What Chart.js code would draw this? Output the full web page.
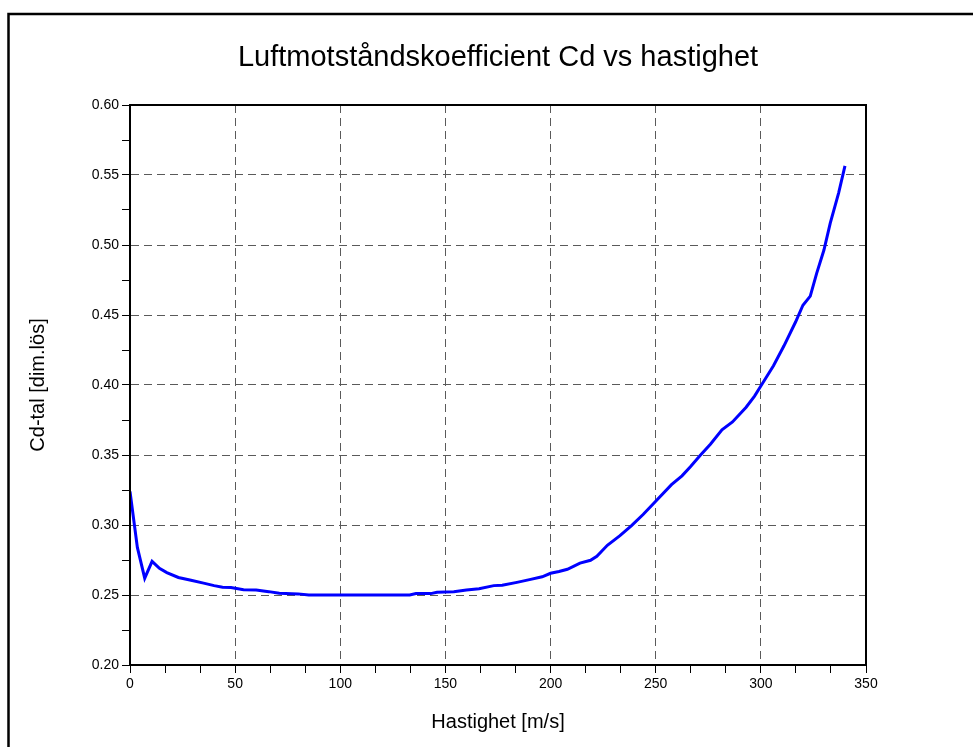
<!DOCTYPE html>
<html>
<head>
<meta charset="utf-8">
<script src="https://cdn.jsdelivr.net/npm/chart.js@4"></script>
<style>
  html, body { margin: 0; padding: 0; background: #fff; }
  #wrap { width: 973px; height: 747px; }
</style>
</head>
<body>
<div id="wrap"><canvas id="chart" width="973" height="747"></canvas></div>
<script>
// speed [m/s] and drag coefficient
const speeds = [0, 3.5, 7, 10.5, 14, 17.5, 23, 29, 35, 40, 44, 48, 54, 60, 66, 71, 80, 85,
  133, 136, 143, 146, 154, 160, 166, 173, 177, 184, 190, 196, 200, 204, 208, 214, 219, 222,
  227, 233, 238.5, 244, 250, 257.5, 262.5, 266.5, 271, 276, 281.5, 286.5, 293, 297, 300,
  306, 311, 316.5, 320, 323.5, 326.5, 330, 333, 337, 340];
const cdValues = [0.324, 0.284, 0.262, 0.274, 0.269, 0.266, 0.2625, 0.2605, 0.2585, 0.2567,
  0.2555, 0.2553, 0.2538, 0.2536, 0.2524, 0.2512, 0.2508, 0.250, 0.250, 0.251, 0.251, 0.252,
  0.2524, 0.2536, 0.2545, 0.2567, 0.2569, 0.259, 0.261, 0.263, 0.2655, 0.2668, 0.2684, 0.2728,
  0.2748, 0.2777, 0.2855, 0.2924, 0.2995, 0.3075, 0.317, 0.3288, 0.3351, 0.3416, 0.3495,
  0.3577, 0.368, 0.3736, 0.3841, 0.3921, 0.3993, 0.4137, 0.428, 0.445, 0.457, 0.4635,
  0.4796, 0.4964, 0.5156, 0.5373, 0.5565];

// axis ticks (major + minor)
const xMajor = [0, 50, 100, 150, 200, 250, 300, 350];
const xTicks = [0, 16.667, 33.333, 50, 66.667, 83.333, 100, 116.667, 133.333, 150, 166.667,
  183.333, 200, 216.667, 233.333, 250, 266.667, 283.333, 300, 316.667, 333.333, 350];
const yMajor = [0.20, 0.25, 0.30, 0.35, 0.40, 0.45, 0.50, 0.55, 0.60];
const yTicks = [0.20, 0.225, 0.25, 0.275, 0.30, 0.325, 0.35, 0.375, 0.40, 0.425, 0.45,
  0.475, 0.50, 0.525, 0.55, 0.575, 0.60];

const isMajor = (v, list) => list.some(m => Math.abs(m - v) < 1e-6);
const FONT = "'Liberation Sans', Arial, sans-serif";
const GRID = '#5a5a5a';

// outer frame + solid box around plot area
const framePlugin = {
    id: 'frame',
    beforeDraw(chart) {
        const ctx = chart.ctx;
        ctx.save();
        ctx.fillStyle = '#fff';
        ctx.fillRect(0, 0, chart.width, chart.height);
        ctx.strokeStyle = '#000';
        ctx.lineWidth = 2.5;
        ctx.strokeRect(8.5, 14, 1100, 1100);
        ctx.restore();
    },
    afterDatasetsDraw(chart) {
        const a = chart.chartArea;
        const ctx = chart.ctx;
        ctx.save();
        ctx.strokeStyle = '#000';
        ctx.lineWidth = 2;
        ctx.strokeRect(a.left, a.top, a.right - a.left, a.bottom - a.top);
        ctx.restore();
    }
};

const ctx = document.getElementById('chart').getContext('2d');
new Chart(ctx, {
    type: 'line',
    data: {
        datasets: [{
            data: speeds.map((s, i) => ({ x: s, y: cdValues[i] })),
            borderColor: '#0000ff',
            borderWidth: 3,
            pointRadius: 0,
            tension: 0,
            fill: false
        }]
    },
    options: {
        responsive: false,
        animation: false,
        layout: { padding: { left: 8, right: 107, top: 0, bottom: 0 } },
        plugins: {
            legend: { display: false },
            tooltip: { enabled: false },
            title: {
                display: true,
                fullSize: false,
                text: 'Luftmotståndskoefficient Cd vs hastighet',
                color: '#000',
                font: { family: FONT, size: 29, weight: 'normal' },
                padding: { top: 40.6, bottom: 29.6 }
            }
        },
        scales: {
            x: {
                type: 'linear',
                min: 0,
                max: 350,
                afterBuildTicks: (scale) => { scale.ticks = xTicks.map(v => ({ value: v })); },
                afterFit: (scale) => { scale.height = 82; },
                ticks: {
                    autoSkip: false,
                    maxRotation: 0,
                    padding: 3,
                    color: '#000',
                    font: { family: FONT, size: 14 },
                    callback: (v) => isMajor(v, xMajor) ? String(Math.round(v)) : ''
                },
                grid: {
                    color: (c) => (c.tick && isMajor(c.tick.value, xMajor) && c.tick.value > 0 && c.tick.value < 350) ? GRID : 'rgba(0,0,0,0)',
                    lineWidth: 1,
                    tickLength: 8,
                    tickColor: '#000',
                    tickWidth: 1
                },
                border: { display: true, color: '#000', width: 2, dash: [8, 5] },
                title: {
                    display: true,
                    text: 'Hastighet [m/s]',
                    color: '#000',
                    font: { family: FONT, size: 20 },
                    padding: { top: 0, bottom: 13 }
                }
            },
            y: {
                type: 'linear',
                min: 0.20,
                max: 0.60,
                afterBuildTicks: (scale) => { scale.ticks = yTicks.map(v => ({ value: v })); },
                afterFit: (scale) => { scale.width = 122; },
                ticks: {
                    autoSkip: false,
                    padding: 3,
                    color: '#000',
                    font: { family: FONT, size: 14 },
                    callback: (v) => isMajor(v, yMajor) ? v.toFixed(2) : ''
                },
                grid: {
                    color: (c) => (c.tick && isMajor(c.tick.value, yMajor) && c.tick.value > 0.2001 && c.tick.value < 0.5999) ? GRID : 'rgba(0,0,0,0)',
                    lineWidth: 1,
                    tickLength: 8,
                    tickColor: '#000',
                    tickWidth: 1
                },
                border: { display: true, color: '#000', width: 2, dash: [8, 5] },
                title: {
                    display: true,
                    text: 'Cd-tal [dim.lös]',
                    color: '#000',
                    font: { family: FONT, size: 20 },
                    padding: { top: 18, bottom: 0 }
                }
            }
        }
    },
    plugins: [framePlugin]
});
</script>
</body>
</html>
